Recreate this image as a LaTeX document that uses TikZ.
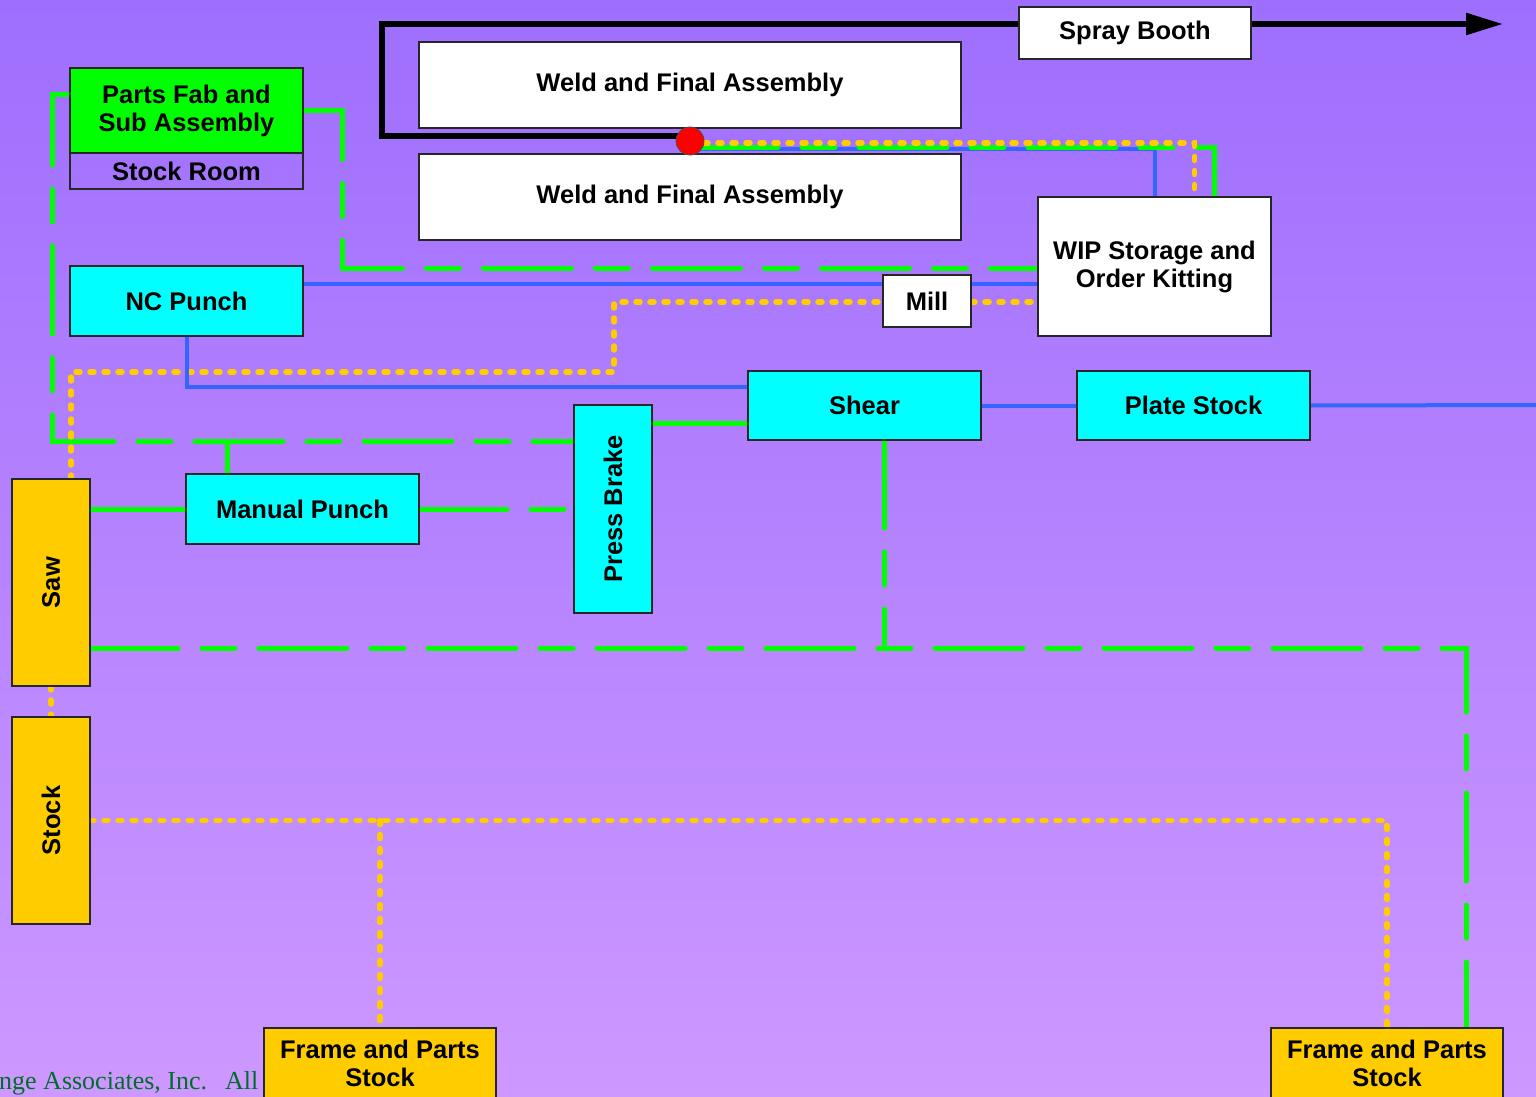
\documentclass[tikz,border=0pt]{standalone}
\usepackage{fontspec}
\usepackage{graphicx}
\setmainfont{Liberation Sans}
\newfontfamily\seriffont{Liberation Serif}
\usetikzlibrary{arrows.meta,calc}
\pgfdeclarelayer{backdrop}
\pgfdeclarelayer{lines}
\pgfsetlayers{backdrop,lines,main}
\definecolor{bgtop}{RGB}{158,110,254}
\definecolor{bgbot}{RGB}{205,152,255}
\definecolor{lgreen}{RGB}{0,255,0}
\definecolor{lcyan}{RGB}{0,255,255}
\definecolor{lyellow}{RGB}{255,204,0}
\definecolor{lblue}{RGB}{51,102,255}
\definecolor{cgreen}{RGB}{0,110,40}
\definecolor{dotred}{RGB}{255,0,0}
\begin{document}
\begin{tikzpicture}[x=1pt,y=-1pt,
  box/.style={draw=black!85, line width=1.2pt, inner sep=0pt, outer sep=0pt,
    anchor=north west, align=center,
    font=\fontsize{25.5}{28}\selectfont\bfseries},
  gsolid/.style={draw=lgreen, line width=5pt},
  gdash/.style={draw=lgreen, line width=5pt, line cap=round,
    dash pattern=on 88pt off 24pt on 33pt off 24pt},
  ydot/.style={draw=lyellow, line width=5.5pt, line cap=round,
    dash pattern=on 4pt off 10pt},
  bline/.style={draw=lblue, line width=4pt},
  kline/.style={draw=black, line width=5.5pt},
]
\useasboundingbox (0,0) rectangle (1536,1097);
\begin{pgfonlayer}{backdrop}
  \shade[top color=bgtop, bottom color=bgbot] (0,0) rectangle (1536,1097);
  \node[anchor=base west, text=cgreen, inner sep=0pt,
    font=\seriffont\fontsize{26}{30}\selectfont] (copy) at (-1,1089)
    {nge Associates, Inc.\hspace{18pt}All};
\end{pgfonlayer}

% nodes
\node[box, fill=lgreen, minimum width=233pt, minimum height=85pt] (pfab) at (70,68) {Parts Fab and\\Sub Assembly};
\node[box, minimum width=233pt, minimum height=36pt] (sroom) at (70,153) {Stock Room};
\node[box, fill=white, minimum width=542pt, minimum height=86pt] (weldA) at (419,42) {Weld and Final Assembly};
\node[box, fill=white, minimum width=542pt, minimum height=86pt] (weldB) at (419,154) {Weld and Final Assembly};
\node[box, fill=white, minimum width=232pt, minimum height=52pt] (spray) at (1019,7) {Spray Booth};
\node[box, fill=white, minimum width=233pt, minimum height=139pt] (wip) at (1038,197) {WIP Storage and\\Order Kitting};
\node[box, fill=white, minimum width=88pt, minimum height=52pt] (mill) at (883,275) {Mill};
\node[box, fill=lcyan, minimum width=233pt, minimum height=70pt] (nc) at (70,266) {NC Punch};
\node[box, fill=lcyan, minimum width=233pt, minimum height=69pt] (shear) at (748,371) {Shear};
\node[box, fill=lcyan, minimum width=233pt, minimum height=69pt] (plate) at (1077,371) {Plate Stock};
\node[box, fill=lcyan, minimum width=78pt, minimum height=208pt] (brake) at (574,405) {\rotatebox{90}{Press Brake}};
\node[box, fill=lcyan, minimum width=233pt, minimum height=70pt] (mpunch) at (186,474) {Manual Punch};
\node[box, fill=lyellow, minimum width=78pt, minimum height=207pt] (saw) at (12,479) {\rotatebox{90}{Saw}};
\node[box, fill=lyellow, minimum width=78pt, minimum height=207pt] (stock) at (12,717) {\rotatebox{90}{Stock}};
\node[box, fill=lyellow, minimum width=232pt, minimum height=71pt] (fpsA) at (264,1028) {Frame and Parts\\Stock};
\node[box, fill=lyellow, minimum width=232pt, minimum height=71pt] (fpsB) at (1271,1028) {Frame and Parts\\Stock};
\node[circle, fill=dotred, draw=black!70, line width=0.8pt, minimum size=28pt, inner sep=0pt] (dot) at (690,141) {};
\coordinate (exit) at (1503,24);
\coordinate (edgeR) at (1540,405);

\begin{pgfonlayer}{lines}
  % black flow to spray booth
  \draw[kline] ([yshift=5pt]dot.center) -| (382,24) -- (spray.west |- exit);
  \draw[kline,-{Triangle[length=37pt,width=21pt]}] (spray.east |- exit) -- (exit);
  % from WIP to weld (red dot)
  \draw[bline] ([yshift=-8pt]dot.center) -| (wip.north);
  \draw[gdash] ([yshift=-6pt]dot.center) -| ([xshift=60pt]wip.north);
  \draw[ydot] ([yshift=-2pt]dot.center) -| ([xshift=40pt]wip.north);
  % parts fab
  \draw[gdash] (pfab.east) -| (342,268) -- (wip.west |- 0,268);
  \draw[gdash] (pfab.west |- 0,95) -| (52,441) -- (brake.west |- 0,441);
  \draw[gsolid] ([xshift=41pt]mpunch.north west) -- ++(0,-33);
  % manual punch
  \draw[gsolid] (saw.east |- mpunch.west) -- (mpunch.west);
  \draw[gdash] (mpunch.east) -- (brake.west |- mpunch.east);
  % press brake / shear
  \draw[gsolid] (brake.east |- 0,423) -- (shear.west |- 0,423);
  \draw[gdash] ([xshift=20pt]shear.south) -- ++(0,208);
  \draw[gdash] (saw.east |- 0,648) -| ([xshift=79pt]fpsB.north);
  % yellow stock flows
  \draw[ydot] (saw.south) -- (stock.north);
  \draw[ydot] (stock.east) -| (fpsB.north);
  \draw[ydot] (fpsA.north |- stock.east) -- (fpsA.north);
  \draw[ydot] ([xshift=20pt]saw.north) |- (614,372) |- (mill.west |- 0,302);
  \draw[ydot] (mill.east |- 0,302) -- (wip.west |- 0,302);
  % blue sheet flows
  \draw[bline] (nc.east |- 0,284) -- (mill.west |- 0,284);
  \draw[bline] (mill.east |- 0,284) -- (wip.west |- 0,284);
  \draw[bline] (nc.south) |- (shear.west |- 0,387);
  \draw[bline] (shear.east) -- (plate.west);
  \draw[bline] (plate.east) -- (edgeR);
\end{pgfonlayer}
\end{tikzpicture}
\end{document}
